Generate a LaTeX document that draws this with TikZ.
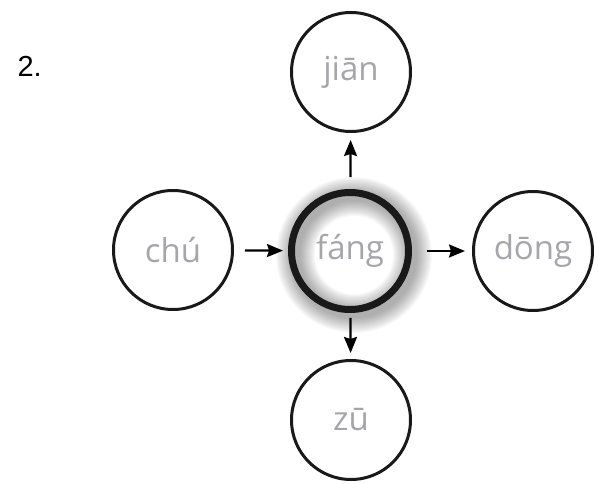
\documentclass[tikz,border=0pt]{standalone}
\usepackage{fontspec}
\setmainfont{Liberation Sans}
\newfontfamily\pyfont{Open Sans}
\usetikzlibrary{arrows.meta}
\definecolor{pygray}{RGB}{165,165,170}
\begin{document}
\begin{tikzpicture}[x=1pt,y=1pt,
  syl/.style={circle,draw=black!90,line width=3pt,minimum size=119pt,inner sep=0pt,
    font=\pyfont\fontsize{33}{36}\selectfont,text=pygray},
  hub/.style={syl,line width=7pt,minimum size=117pt},
  link/.style={line width=2.2pt,-{Stealth[length=16pt,width=13pt,inset=2pt]}}]
\useasboundingbox (0,0) rectangle (598,483);
% shadow of the hub ring
\foreach \i in {1,...,16}{
  \draw[black,opacity=0.025,line width={7+2*\i}] (354,228) circle (58.5);
}
\node[hub] (c) at (350,232) {fáng};
\node[syl] (t) at (351,411) {jiān};
\node[syl] (b) at (351,63) {zū};
\node[syl] (l) at (173,233) {chú};
\node[syl] (r) at (533,232) {dōng};
\node[anchor=base west,font=\fontsize{29}{31}\selectfont] (n) at (14,406) {2.};
\draw[link,shorten <=12pt,shorten >=7pt] (c) -- (t);
\draw[link,shorten <=5pt,shorten >=6pt] (c) -- (b);
\draw[link,shorten <=11pt,shorten >=5pt] (l) -- (c);
\draw[link,shorten <=15pt,shorten >=7pt] (c) -- (r);
\end{tikzpicture}
\end{document}
